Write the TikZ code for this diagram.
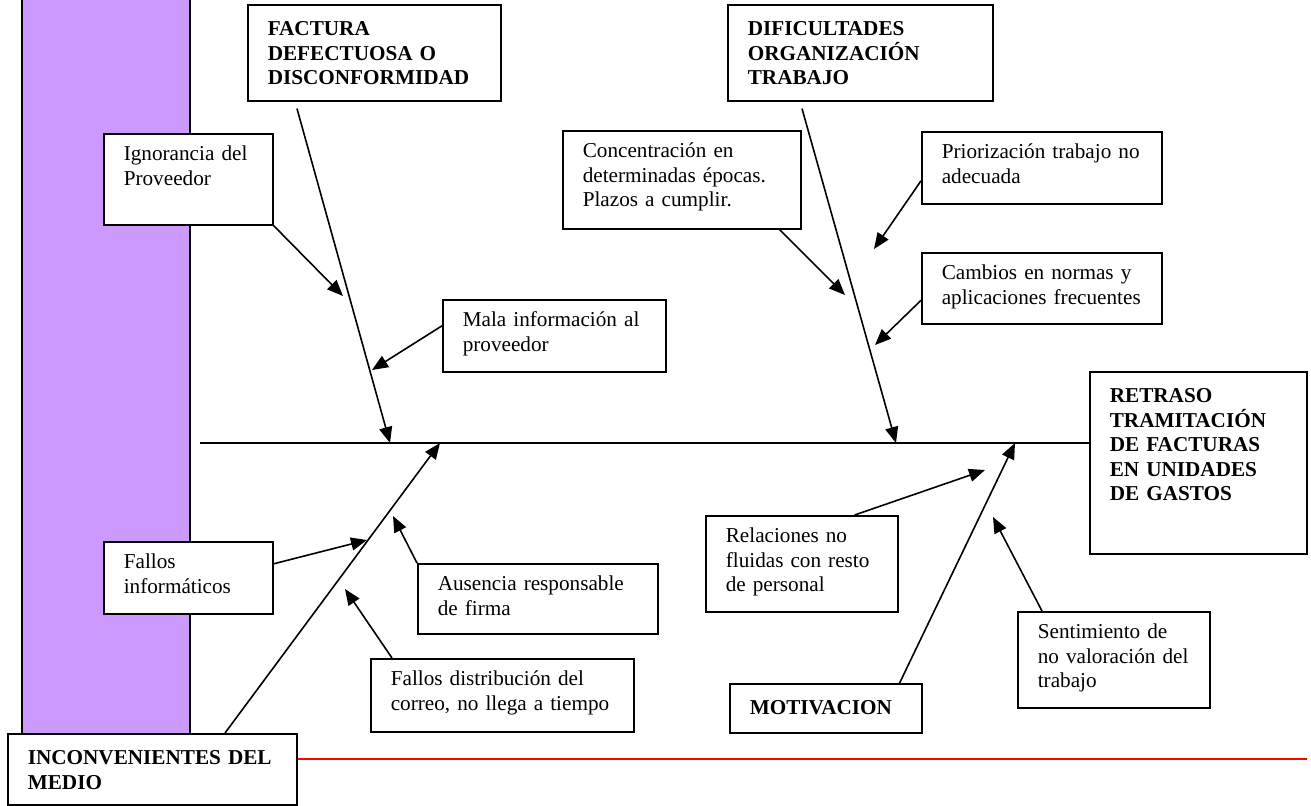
\documentclass[tikz,border=0pt]{standalone}
\usepackage{fontspec}
\setmainfont{Liberation Serif}
\usetikzlibrary{arrows.meta}
\definecolor{lila}{RGB}{204,153,255}

\begin{document}
\begin{tikzpicture}[x=0.5pt, y=-0.5pt, line width=0.8pt,
	>={Triangle[length=8pt,width=6.5pt]},
	font=\fontsize{10.6}{12.25}\selectfont,
	box/.style={draw, fill=white, anchor=north west, align=left, inner xsep=10pt, inner ysep=6.5pt},
	cause/.style={box, text height=7pt},
	head/.style={box, font=\fontsize{10.6}{12.25}\selectfont\bfseries, text height=9pt}]
		\useasboundingbox (0,0) rectangle (1311,805);
		\filldraw[fill=lila] (22,-5) rectangle (190,740);
		\node[head, text width=106.5pt, text depth=26pt] (fact) at (247,4) {FACTURA\\DEFECTUOSA O\\DISCONFORMIDAD};
		\node[head, text width=112.5pt, text depth=26pt] (dif) at (727,4) {DIFICULTADES\\ORGANIZACIÓN\\TRABAJO};
		\node[head, text width=88.5pt, text depth=69pt] (ret) at (1089,371) {RETRASO\\TRAMITACIÓN\\DE FACTURAS\\EN UNIDADES\\DE GASTOS};
		\node[head, text width=76pt, text depth=2.5pt] (mot) at (729,683) {MOTIVACION};
		\node[head, text width=124.5pt, text depth=13.5pt] (inc) at (7,733) {INCONVENIENTES DEL\\MEDIO};
		\node[cause, text width=64.5pt, text depth=25.5pt] (ign) at (103,133) {Ignorancia del\\Proveedor};
		\node[cause, text width=91.5pt, text depth=16pt] (mala) at (442,299) {Mala información al\\proveedor};
		\node[cause, text width=99pt, text depth=29pt] (conc) at (562,130) {Concentración en\\determinadas épocas.\\Plazos a cumplir.};
		\node[cause, text width=100pt, text depth=16pt] (prio) at (921,131) {Priorización trabajo no\\adecuada};
		\node[cause, text width=100pt, text depth=15.5pt] (camb) at (921,252) {Cambios en normas y\\aplicaciones frecuentes};
		\node[cause, text width=64.5pt, text depth=16pt] (finf) at (103,541) {Fallos\\informáticos};
		\node[cause, text width=100pt, text depth=15pt] (aus) at (417,563) {Ausencia responsable\\de firma};
		\node[cause, text width=111.5pt, text depth=16.5pt] (fdist) at (370,658) {Fallos distribución del\\correo, no llega a tiempo};
		\node[cause, text width=76pt, text depth=28pt] (rel) at (705,515) {Relaciones no\\fluidas con resto\\de personal};
		\node[cause, text width=76pt, text depth=28pt] (sent) at (1017,611) {Sentimiento de\\no valoración del\\trabajo};
		\coordinate (spineL) at (200,443);
		\coordinate (fTip) at (390,443);
		\coordinate (iTip) at (440,443);
		\coordinate (dTip) at (896,443);
		\coordinate (mTip) at (1015,443);
		\coordinate (ignTip) at (343,296);
		\coordinate (malaTip) at (372,370);
		\coordinate (concTip) at (845,295);
		\coordinate (prioTip) at (874,249);
		\coordinate (cambTip) at (875,345);
		\coordinate (finfTip) at (367,540);
		\coordinate (ausTip) at (393,516);
		\coordinate (fdistTip) at (345,589);
		\coordinate (relTip) at (985,470);
		\coordinate (sentTip) at (993,517);
		\coordinate (redEnd) at (1307,759);
		\draw (spineL) -- (spineL -| ret.west);
		\path[->] ([xshift=25pt,yshift=-3.5pt]fact.south west) edge (fTip)
		([xshift=37.5pt,yshift=-3.5pt]dif.south west) edge (dTip)
		([xshift=109pt]inc.north west) edge (iTip)
		([xshift=-11.5pt]mot.north east) edge (mTip);
		\path[->] (ign.south east) edge (ignTip)
		([yshift=5pt]mala.west) edge (malaTip)
		([xshift=-11pt]conc.south east) edge (concTip)
		([yshift=-6.5pt]prio.west) edge (prioTip)
		([yshift=-6pt]camb.west) edge (cambTip)
		([yshift=7pt]finf.east) edge (finfTip)
		(aus.north west) edge (ausTip)
		([xshift=11pt]fdist.north west) edge (fdistTip)
		([xshift=-22pt]rel.north east) edge (relTip)
		([xshift=12.5pt]sent.north west) edge (sentTip);
		\draw[red, line width=1pt] (inc.east |- redEnd) -- (redEnd);
\end{tikzpicture}
\end{document}
